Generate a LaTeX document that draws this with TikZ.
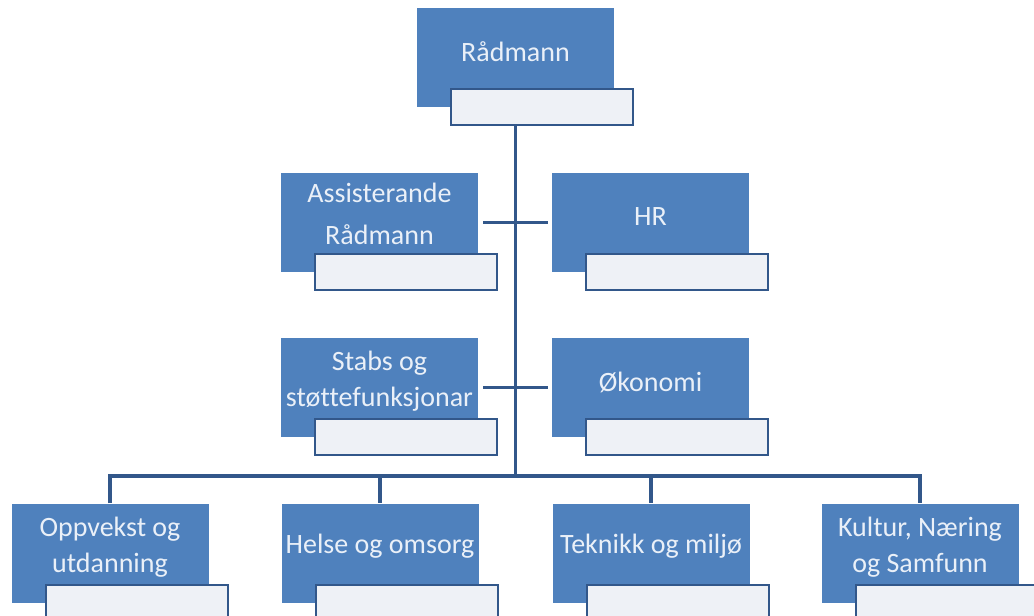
\documentclass[tikz,border=0pt]{standalone}
\usepackage{fontspec}
\setmainfont{Carlito}[Ligatures=NoCommon]
\usepackage{tikz}
\usetikzlibrary{calc,backgrounds,positioning}
\definecolor{unitblue}{HTML}{4F81BD}
\definecolor{unittext}{HTML}{EAF0F8}
\definecolor{linkblue}{HTML}{32578A}
\definecolor{subfill}{HTML}{EEF1F6}

\begin{document}
\begin{tikzpicture}[x=1pt,y=-1pt,
  unit/.style={fill=unitblue, text=unittext, minimum width=197pt, minimum height=99pt, inner sep=0pt, align=center, font=\fontsize{28}{36}\selectfont},
  lift/.style={text depth=12pt},
  sub/.style={draw=linkblue, fill=subfill, line width=2pt, minimum width=182pt, minimum height=36pt, anchor=north east},
  link/.style={draw=linkblue, line width=3.2pt}]
\useasboundingbox (0,0) rectangle (1034,616);
\node[unit,lift] (radmann) at (515.5,57.5) {Rådmann};
\node[unit,text depth=18pt] (assist) at (379.5,222.5) {Assisterande\\[6pt]Rådmann};
\node[unit,lift] (hr) at (650.5,222.5) {HR};
\node[unit,text depth=18pt] (stabs) at (379.5,387.5) {Stabs og\\støttefunksjonar};
\node[unit,lift] (okonomi) at (650.5,387.5) {Økonomi};
\node[unit,text depth=16pt] (oppvekst) at (110,553) {Oppvekst og\\utdanning};
\node[unit,lift,text depth=18pt] (helse) at (380,553) {Helse og omsorg};
\node[unit,text depth=18pt] (teknikk) at (651,553) {Teknikk og miljø};
\node[unit,text depth=16pt] (kultur) at (920,553) {Kultur, Næring\\og Samfunn};
% white label boxes
\foreach \u in {radmann,assist,hr,stabs,okonomi,oppvekst,helse,teknikk,kultur}
  \node[sub] (\u sub) at ($(\u.south east)+(20,-19)$) {};
\coordinate (bus) at (515.5,476);
\begin{scope}[on background layer]
\draw[link] (radmann) -- (bus);
\draw[link] (oppvekst.north) |- (bus) -| (kultur.north);
\draw[link] (bus) -| (helse.north);
\draw[link] (bus) -| (teknikk.north);
\end{scope}
\draw[link, shorten <=5pt, shorten >=4pt] (assist.east) -- (hr.west);
\draw[link, shorten <=5pt, shorten >=4pt] (stabs.east) -- (okonomi.west);
\end{tikzpicture}
\end{document}
